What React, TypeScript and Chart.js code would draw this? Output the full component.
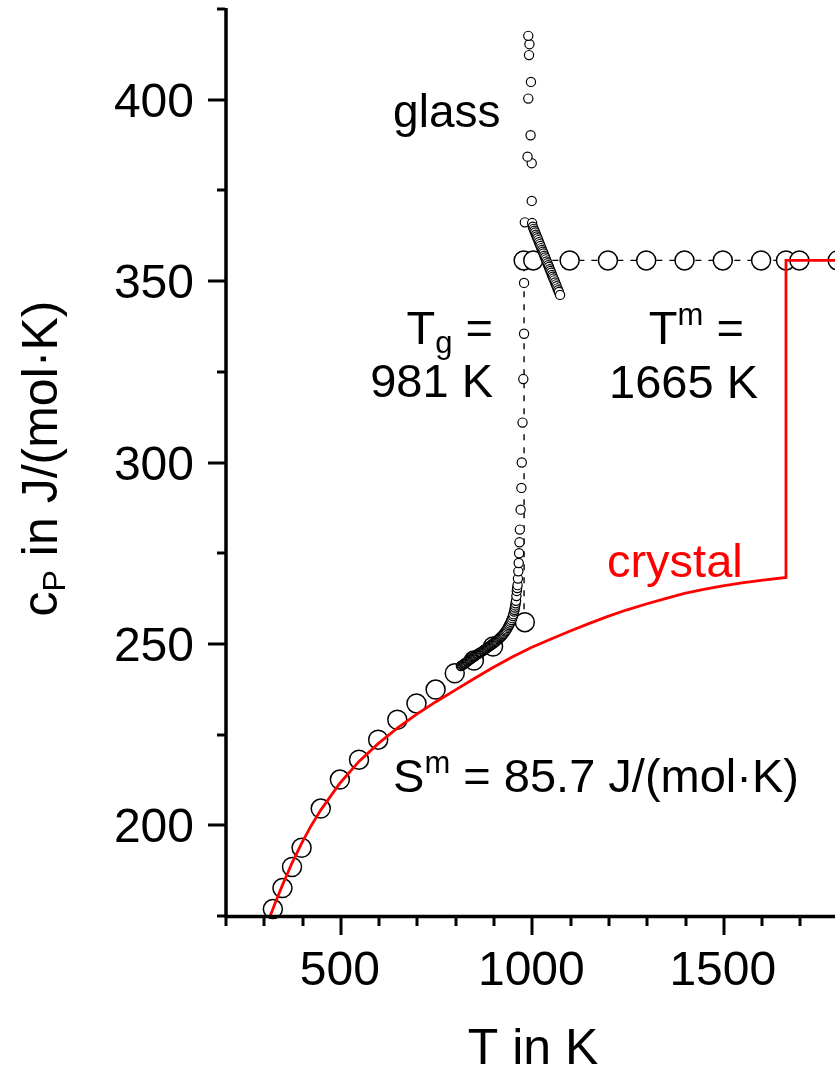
import { useEffect, useRef } from 'react';
import { Chart, registerables } from 'chart.js';

Chart.register(...registerables);

const FONT = '"Liberation Sans", Arial, Helvetica, sans-serif';

// Smooth crystal heat-capacity curve, then the melting step and the liquid plateau
const crystalFitT = [318, 335, 350, 375, 400, 425, 450, 500, 550, 600, 650, 700, 750, 800, 850, 900, 950, 1000, 1050, 1100, 1150, 1200, 1250, 1300, 1350, 1400, 1450, 1500, 1550, 1600, 1665, 1665, 1900];
const crystalFitCp = [175.0, 179.6, 183.5, 189.6, 195.0, 199.9, 204.2, 211.6, 217.6, 222.5, 226.8, 230.6, 234.0, 237.2, 240.4, 243.5, 246.4, 249.0, 251.3, 253.5, 255.6, 257.6, 259.4, 261.0, 262.5, 263.9, 265.0, 266.0, 266.8, 267.5, 268.3, 355.7, 355.7];

// Measured crystal points (large circles)
const crystalDataT = [325, 350, 375, 400, 450, 500, 550, 600, 650, 700, 750, 800, 850, 900, 983];
const crystalDataCp = [176.9, 182.7, 188.5, 193.8, 204.6, 212.6, 218.1, 223.6, 229.1, 233.6, 237.4, 241.9, 245.4, 249.3, 256.0];

// Liquid plateau points (large circles)
const liquidDataT = [980, 1005, 1100, 1200, 1300, 1400, 1500, 1600, 1665, 1700, 1800];
const liquidDataCp = [355.7, 355.7, 355.7, 355.7, 355.7, 355.7, 355.7, 355.7, 355.7, 355.7, 355.7];

// Dashed guide: jump at Tg and the liquid level
const guideT = [981, 981, 1900];
const guideCp = [256.0, 355.7, 355.7];

// Glass heating run (small circles)
const glassT = [
  816, 818, 820, 822, 824, 826, 828, 830, 832, 834, 836, 838, 840, 842, 844, 846, 848, 850, 852, 854,
  856, 858, 860, 862, 864, 866, 868, 870, 872, 874, 876, 878, 880, 882, 884, 886, 888, 890, 892, 894,
  896, 898, 900, 902, 904, 906, 908, 910, 912, 914, 916, 918, 920, 922, 924, 926, 928, 930, 932, 934,
  936, 938, 940, 942, 944, 946, 948, 950, 952, 953, 955, 956, 957, 958, 959, 960, 961, 962, 963,
  964, 965, 966, 967, 968, 969, 970, 972, 974, 975, 977, 979, 981, 981,
  983, 1002, 1001, 1001, 990, 998, 992, 999, 994, 995, 992,
  1004, 1006, 1008, 1010, 1012, 1014, 1016, 1018, 1020, 1022, 1024, 1026, 1028, 1030, 1032, 1034, 1036,
  1038, 1040, 1042, 1044, 1046, 1048, 1050, 1052, 1054, 1056, 1058, 1060, 1062, 1064, 1066, 1068, 1070, 1072, 1075,
];
const glassCp = [
  243.9, 244.0, 244.2, 244.3, 244.5, 244.6, 244.8, 244.9, 245.1, 245.2, 245.4, 245.6, 245.7, 245.9, 246.0, 246.2, 246.3, 246.5, 246.6, 246.8,
  246.9, 247.1, 247.2, 247.3, 247.5, 247.6, 247.7, 247.8, 248.0, 248.1, 248.3, 248.4, 248.6, 248.7, 248.9, 249.0, 249.2, 249.3, 249.5, 249.6,
  249.8, 249.9, 250.1, 250.2, 250.4, 250.6, 250.7, 250.9, 251.1, 251.3, 251.5, 251.7, 251.9, 252.1, 252.3, 252.6, 252.8, 253.1, 253.4, 253.7,
  254.0, 254.4, 254.8, 255.2, 255.6, 256.1, 256.6, 257.1, 257.7, 258.2, 258.9, 259.4, 260.0, 260.6, 261.2, 261.9, 263.2, 264.6, 265.4,
  266.2, 268.0, 270.0, 272.3, 275.0, 278.0, 281.5, 287.0, 293.0, 300.0, 311.0, 323.0, 335.5, 349.5,
  366.2, 366.0, 372.1, 382.5, 384.3, 390.2, 400.3, 404.9, 412.3, 415.3, 417.6,
  365.0, 364.4, 363.9, 363.4, 362.8, 362.3, 361.8, 361.3, 360.7, 360.2, 359.7, 359.1, 358.6, 358.1, 357.6, 357.0, 356.5,
  356.0, 355.4, 354.9, 354.4, 353.9, 353.3, 352.8, 352.3, 351.7, 351.2, 350.7, 350.2, 349.6, 349.1, 348.6, 348.0, 347.5, 347.0, 346.2,
];

// Axis ticks
const xTickValues = [200, 300, 400, 500, 600, 700, 800, 900, 1000, 1100, 1200, 1300, 1400, 1500, 1600, 1700];
const xLabelValues = [500, 1000, 1500];
const xLabelTexts = ['500', '1000', '1500'];
const yTickValues = [175, 200, 225, 250, 275, 300, 325, 350, 375, 400, 425];
const yLabelValues = [200, 250, 300, 350, 400];
const yLabelTexts = ['200', '250', '300', '350', '400'];

type Piece = { t: string; size: number; dy: number };
type Note = { x: number; y: number; align: 'left' | 'right' | 'center'; color: string; parts: Piece[] };

const BIG = 47;
const SMALL = 31;

// Text placed in data coordinates (T, cp)
const notes: Note[] = [
  { x: 639, y: 392.5, align: 'left', color: '#000', parts: [{ t: 'glass', size: 46, dy: 0 }] },
  { x: 900, y: 332.7, align: 'right', color: '#000', parts: [{ t: 'T', size: BIG, dy: 0 }, { t: 'g', size: SMALL, dy: 9 }, { t: ' =', size: BIG, dy: 0 }] },
  { x: 900, y: 318.1, align: 'right', color: '#000', parts: [{ t: '981 K', size: BIG, dy: 0 }] },
  { x: 1555, y: 332.7, align: 'right', color: '#000', parts: [{ t: 'T', size: BIG, dy: 0 }, { t: 'm', size: SMALL, dy: -19 }, { t: ' =', size: BIG, dy: 0 }] },
  { x: 1592, y: 317.8, align: 'right', color: '#000', parts: [{ t: '1665 K', size: BIG, dy: 0 }] },
  { x: 1552, y: 268.5, align: 'right', color: '#ff0000', parts: [{ t: 'crystal', size: BIG, dy: 0 }] },
  { x: 639, y: 209.2, align: 'left', color: '#000', parts: [{ t: 'S', size: BIG, dy: 0 }, { t: 'm', size: SMALL, dy: -19 }, { t: ' = 85.7 J/(mol·K)', size: BIG, dy: 0 }] },
];

const yTitle: Piece[] = [
  { t: 'c', size: 50, dy: 0 },
  { t: 'P', size: 32, dy: 8 },
  { t: ' in J/(mol·K)', size: 50, dy: 0 },
];
const xTitle = 'T in K';

function drawPieces(ctx: CanvasRenderingContext2D, parts: Piece[], x: number, y: number, align: 'left' | 'right' | 'center') {
  let total = 0;
  const widths: number[] = [];
  for (const p of parts) {
    ctx.font = `${p.size}px ${FONT}`;
    const w = ctx.measureText(p.t).width;
    widths.push(w);
    total += w;
  }
  let cx = align === 'left' ? x : align === 'right' ? x - total : x - total / 2;
  ctx.textAlign = 'left';
  ctx.textBaseline = 'alphabetic';
  parts.forEach((p, i) => {
    ctx.font = `${p.size}px ${FONT}`;
    ctx.fillText(p.t, cx, y + p.dy);
    cx += widths[i];
  });
}

const pts = (xs: number[], ys: number[]) => xs.map((x, i) => ({ x, y: ys[i] }));

const frame = {
  id: 'frameAndNotes',
  afterDraw(chart: any) {
    const { ctx, chartArea: a, scales } = chart;
    const xs = scales.x;
    const ys = scales.y;
    ctx.save();
    ctx.strokeStyle = '#000';
    ctx.fillStyle = '#000';
    ctx.lineCap = 'butt';

    // annotations
    for (const n of notes) {
      ctx.fillStyle = n.color;
      drawPieces(ctx, n.parts, xs.getPixelForValue(n.x), ys.getPixelForValue(n.y), n.align);
    }
    ctx.fillStyle = '#000';

    // axis lines
    ctx.lineWidth = 3.5;
    ctx.beginPath();
    ctx.moveTo(a.left + 1, a.top - 1);
    ctx.lineTo(a.left + 1, a.bottom + 1.5);
    ctx.moveTo(a.left - 0.5, a.bottom + 0.5);
    ctx.lineTo(a.right + 2, a.bottom + 0.5);
    ctx.stroke();

    // ticks
    ctx.lineWidth = 3;
    ctx.beginPath();
    for (const v of xTickValues) {
      const px = Math.round(xs.getPixelForValue(v)) + 1;
      const len = xLabelValues.includes(v) ? 17 : 8;
      ctx.moveTo(px, a.bottom + 2);
      ctx.lineTo(px, a.bottom + 2 + len);
    }
    for (const v of yTickValues) {
      const py = Math.round(ys.getPixelForValue(v));
      const len = yLabelValues.includes(v) ? 17 : 8;
      ctx.moveTo(a.left, py);
      ctx.lineTo(a.left - len, py);
    }
    ctx.stroke();

    // tick labels
    ctx.font = `48px ${FONT}`;
    ctx.textBaseline = 'alphabetic';
    ctx.textAlign = 'center';
    xLabelValues.forEach((v, i) => {
      ctx.fillText(xLabelTexts[i], xs.getPixelForValue(v), a.bottom + 69);
    });
    ctx.textAlign = 'right';
    yLabelValues.forEach((v, i) => {
      ctx.fillText(yLabelTexts[i], a.left - 31, ys.getPixelForValue(v) + 17);
    });

    // axis titles
    ctx.font = `50px ${FONT}`;
    ctx.textAlign = 'center';
    ctx.fillText(xTitle, (a.left + a.right) / 2 + 3, a.bottom + 148);

    ctx.save();
    ctx.translate(57, (a.top + a.bottom) / 2 - 4);
    ctx.rotate(-Math.PI / 2);
    drawPieces(ctx, yTitle, 0, 0, 'center');
    ctx.restore();

    ctx.restore();
  },
};

export default function App() {
  const ref = useRef<HTMLCanvasElement | null>(null);

  useEffect(() => {
    if (!ref.current) return;
    const chart = new Chart(ref.current, {
      type: 'scatter',
      data: {
        datasets: [
          {
            label: 'crystal fit',
            data: pts(crystalFitT, crystalFitCp),
            showLine: true,
            borderColor: '#ff0000',
            borderWidth: 2.8,
            borderJoinStyle: 'miter',
            pointRadius: 0,
            tension: 0,
            order: 0,
          },
          {
            label: 'glass',
            data: pts(glassT, glassCp),
            showLine: false,
            pointRadius: 4.6,
            pointBorderWidth: 1.2,
            borderColor: '#000',
            backgroundColor: '#fff',
            clip: false,
            order: 1,
          },
          {
            label: 'crystal / liquid',
            data: [...pts(crystalDataT, crystalDataCp), ...pts(liquidDataT, liquidDataCp)],
            showLine: false,
            pointRadius: 9.5,
            pointBorderWidth: 1.5,
            borderColor: '#000',
            backgroundColor: '#fff',
            clip: false,
            order: 2,
          },
          {
            label: 'guide',
            data: pts(guideT, guideCp),
            showLine: true,
            borderColor: '#000',
            borderWidth: 1.4,
            borderDash: [6, 7],
            pointRadius: 0,
            tension: 0,
            order: 3,
          },
        ],
      },
      options: {
        responsive: false,
        maintainAspectRatio: false,
        devicePixelRatio: 1,
        animation: false,
        events: [],
        layout: { autoPadding: false, padding: { left: 0, right: 0, top: 9, bottom: 0 } },
        plugins: { legend: { display: false }, tooltip: { enabled: false } },
        scales: {
          x: {
            type: 'linear',
            min: 200,
            max: 1793,
            grid: { display: false },
            border: { display: false },
            ticks: { display: false },
            afterFit: (s: any) => {
              s.height = 155;
              s.paddingLeft = 0;
              s.paddingRight = 0;
            },
          },
          y: {
            type: 'linear',
            min: 175,
            max: 425,
            grid: { display: false },
            border: { display: false },
            ticks: { display: false },
            afterFit: (s: any) => {
              s.width = 225;
              s.paddingTop = 0;
              s.paddingBottom = 0;
            },
          },
        },
      },
      plugins: [frame],
    });
    return () => chart.destroy();
  }, []);

  return (
    <div style={{ position: 'absolute', left: 0, top: 0, width: 835, height: 1071, overflow: 'hidden', background: '#fff' }}>
      <canvas ref={ref} width={835} height={1071} style={{ display: 'block' }} />
    </div>
  );
}
